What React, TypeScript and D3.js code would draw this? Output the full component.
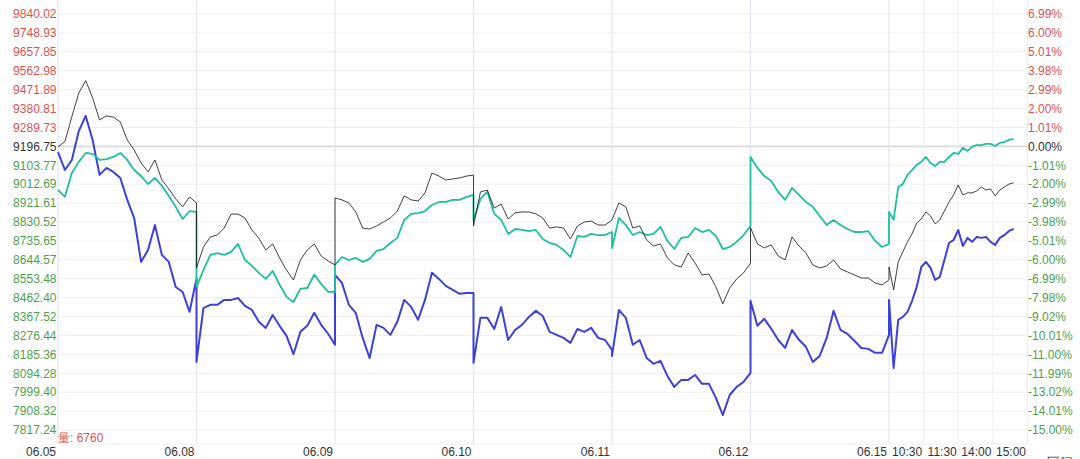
import * as d3 from 'd3';

// percent change vs 9196.75, one inner array per trading day
const dayLabels = ['06.05', '06.08', '06.09', '06.10', '06.11', '06.12', '06.15'];
const timeLabels = ['10:30', '11:30', '14:00', '15:00'];
const minuteStep = [12, 12, 12, 12, 12, 12, 8];

const leftTicks = [
  '9840.02', '9748.93', '9657.85', '9562.98', '9471.89', '9380.81', '9289.73', '9196.75',
  '9103.77', '9012.69', '8921.61', '8830.52', '8735.65', '8644.57', '8553.48', '8462.40',
  '8367.52', '8276.44', '8185.36', '8094.28', '7999.40', '7908.32', '7817.24',
];
const rightTicks = [
  '6.99%', '6.00%', '5.01%', '3.98%', '2.99%', '2.00%', '1.01%', '0.00%',
  '-1.01%', '-2.00%', '-2.99%', '-3.98%', '-5.01%', '-6.00%', '-6.99%', '-7.98%',
  '-9.02%', '-10.01%', '-11.00%', '-11.99%', '-13.02%', '-14.01%', '-15.00%',
];

const blackSeries = [
  [-0.02, 0.25, 1.57, 2.82, 3.48, 2.56, 1.4, 1.61, 1.55, 1.29, 0.34, -0.19, -0.88, -1.35, -0.72, -1.78, -2.25, -2.78, -3.2, -2.68, -2.99],
  [-6.43, -5.32, -4.79, -4.69, -4.32, -3.58, -3.58, -3.79, -4.42, -4.85, -5.48, -5.16, -5.9, -6.54, -7.07, -6.01, -5.48, -5.16, -5.8, -6.06, -6.27],
  [-2.73, -2.83, -2.99, -3.47, -4.32, -4.37, -4.21, -4.0, -3.79, -3.42, -2.62, -2.83, -2.89, -2.46, -1.41, -1.57, -1.78, -1.72, -1.67, -1.57, -1.52],
  [-4.21, -2.41, -2.31, -3.26, -3.05, -3.84, -3.52, -3.47, -3.47, -3.57, -3.79, -4.32, -4.26, -4.32, -4.9, -4.21, -4.0, -3.95, -4.16, -4.16, -3.89],
  [-3.89, -2.99, -3.2, -4.32, -4.21, -4.95, -5.27, -5.16, -5.9, -6.27, -6.38, -5.64, -6.17, -6.8, -6.75, -7.43, -8.33, -7.49, -7.01, -6.69, -6.17],
  [-4.3, -5.16, -5.37, -5.21, -5.8, -6.01, -4.79, -5.27, -5.64, -6.27, -6.43, -6.32, -6.01, -6.48, -6.64, -6.8, -6.96, -6.96, -7.22, -7.33, -7.06],
  [-6.38, -7.59, -6.11, -5.58, -5.05, -4.63, -4.05, -3.83, -3.47, -3.68, -4.1, -3.89, -3.42, -2.94, -2.57, -2.04, -2.57, -2.46, -2.46, -2.36, -2.15, -2.31, -2.25, -2.62, -2.31, -2.15, -1.99, -1.93],
];

const tealSeries = [
  [-2.3, -2.67, -1.41, -0.82, -0.35, -0.4, -0.72, -0.67, -0.56, -0.35, -0.72, -1.25, -1.57, -1.99, -1.67, -2.09, -2.62, -3.2, -3.84, -3.42, -3.47],
  [-7.43, -6.54, -5.74, -5.64, -5.74, -5.58, -5.16, -6.01, -6.32, -6.69, -7.01, -6.59, -7.32, -7.96, -8.23, -7.54, -7.49, -6.79, -7.27, -7.69, -7.69],
  [-6.27, -5.85, -6.01, -5.9, -6.11, -5.95, -5.53, -5.43, -5.11, -4.84, -3.89, -3.57, -3.53, -3.42, -3.1, -2.94, -2.94, -2.83, -2.83, -2.67, -2.57],
  [-3.89, -2.78, -2.41, -3.57, -3.89, -4.63, -4.37, -4.42, -4.48, -4.42, -4.9, -5.11, -5.21, -5.48, -5.85, -4.74, -4.79, -4.63, -4.69, -4.69, -4.53],
  [-5.38, -3.79, -4.16, -4.69, -4.53, -4.69, -4.63, -4.26, -5.0, -5.43, -4.84, -4.79, -4.32, -4.53, -4.42, -4.74, -5.43, -5.32, -5.05, -4.69, -4.21],
  [-0.56, -1.14, -1.57, -1.83, -2.41, -2.83, -2.2, -2.57, -2.94, -3.2, -3.68, -4.16, -3.89, -4.16, -4.37, -4.53, -4.53, -4.48, -5.0, -5.32, -5.16],
  [-3.47, -3.89, -2.15, -1.99, -1.51, -1.25, -0.98, -0.82, -0.56, -0.88, -1.04, -0.82, -0.82, -0.56, -0.35, -0.4, -0.08, -0.24, -0.03, 0.07, 0.07, 0.13, 0.13, 0.02, 0.18, 0.23, 0.34, 0.39],
];

const blueSeries = [
  [-0.3, -1.25, -0.72, 0.81, 1.61, 0.34, -1.51, -1.14, -1.35, -1.67, -2.83, -3.79, -6.11, -5.48, -4.16, -5.74, -6.11, -7.44, -7.7, -8.75, -7.0],
  [-11.4, -8.55, -8.38, -8.38, -8.12, -8.12, -8.02, -8.44, -8.65, -9.28, -9.6, -8.92, -9.49, -10.02, -10.99, -9.81, -9.49, -8.8, -9.44, -9.91, -10.49],
  [-6.8, -7.22, -8.38, -8.81, -10.13, -11.19, -9.44, -9.6, -9.97, -9.28, -8.12, -8.49, -9.17, -8.12, -6.69, -7.01, -7.38, -7.59, -7.8, -7.75, -7.75],
  [-11.45, -9.07, -9.07, -9.66, -8.49, -10.24, -9.71, -9.44, -9.02, -8.7, -8.97, -9.81, -9.97, -10.13, -10.39, -9.66, -9.81, -9.6, -10.13, -10.24, -10.76],
  [-11.08, -8.65, -9.07, -10.49, -10.24, -11.19, -11.5, -11.34, -12.14, -12.72, -12.35, -12.35, -12.09, -12.56, -12.56, -13.3, -14.21, -13.15, -12.72, -12.46, -11.98],
  [-8.17, -9.49, -9.12, -9.65, -10.24, -10.66, -9.71, -10.23, -10.6, -11.4, -11.08, -10.13, -8.7, -9.71, -9.92, -10.28, -10.66, -10.71, -10.92, -10.92, -9.97],
  [-8.12, -11.72, -9.17, -9.02, -8.75, -8.17, -7.43, -6.38, -6.11, -6.43, -7.06, -6.9, -6.01, -5.11, -4.95, -4.42, -5.27, -4.84, -5.05, -4.79, -4.84, -4.79, -5.05, -5.21, -4.84, -4.69, -4.47, -4.37],
];

const width = 1080;
const height = 459;
const left = 58;
const right = 1027.5;
const top = 14;
const bottom = 430;
const font = '"Liberation Sans", Arial, sans-serif';

const x = d3.scaleLinear().domain([0, dayLabels.length * 240]).range([left, right]);
const y = d3.scaleLinear().domain([-15, 7]).range([bottom, top]);
const tickY = d3.scalePoint<number>().domain(leftTicks.map((_, i) => i)).range([top, bottom]);

const toPoints = (series: number[][]) =>
  series.flatMap((day, d) => day.map((v, j) => [d * 240 + j * minuteStep[d], v] as [number, number]));

const line = d3.line<[number, number]>().x(p => x(p[0])).y(p => y(p[1]));

const tickColor = (i: number) => (i < 7 ? '#d9534f' : i === 7 ? '#333' : '#4e9f4e');

export default function App() {
  return (
    <svg width={width} height={height} style={{ position: 'absolute', left: 0, top: 0, background: '#fff' }}>
      {leftTicks.map((_, i) => (
        <line key={'h' + i} x1={left} x2={right} y1={tickY(i)} y2={tickY(i)}
          stroke={i === 7 ? '#d9d9d9' : '#efefef'} strokeWidth={i === 7 ? 1.6 : 1} />
      ))}
      <line x1={left} x2={right} y1={444} y2={444} stroke="#efefef" />
      {dayLabels.map((_, d) => (
        <line key={'v' + d} x1={x(d * 240)} x2={x(d * 240)} y1={0} y2={444} stroke="#e3e6ef" strokeWidth={1.2} />
      ))}
      {timeLabels.map((_, k) => (
        <line key={'t' + k} x1={x(6 * 240 + (k + 1) * 60)} x2={x(6 * 240 + (k + 1) * 60)} y1={0} y2={444}
          stroke="#eceef3" />
      ))}

      <path d={line(toPoints(blueSeries)) || ''} fill="none" stroke="#3d41d6" strokeWidth={2} strokeLinejoin="round" />
      <path d={line(toPoints(tealSeries)) || ''} fill="none" stroke="#1fbf9f" strokeWidth={1.8} strokeLinejoin="round" />
      <path d={line(toPoints(blackSeries)) || ''} fill="none" stroke="#111" strokeWidth={0.8} strokeLinejoin="round" />

      <g fontFamily={font} fontSize={12}>
        {leftTicks.map((t, i) => (
          <text key={'l' + i} x={56.5} y={tickY(i)! + 4.3} textAnchor="end" fill={tickColor(i)}>{t}</text>
        ))}
        {rightTicks.map((t, i) => (
          <text key={'r' + i} x={1028} y={tickY(i)! + 4.3} fill={tickColor(i)}>{t}</text>
        ))}
        {dayLabels.map((t, d) => (
          <text key={'d' + d} x={x(d * 240) - 2} y={456} textAnchor="end" fill="#333">{t}</text>
        ))}
        {timeLabels.map((t, k) => (
          <text key={'tl' + k} x={x(6 * 240 + (k + 1) * 60) - 1.5} y={456} textAnchor="end" fill="#333">{t}</text>
        ))}
        <text x={58} y={441.5} fill="#d9534f">量: 6760</text>
        <text x={1047} y={467} fontSize={13} fill="#333">区间</text>
      </g>
    </svg>
  );
}
